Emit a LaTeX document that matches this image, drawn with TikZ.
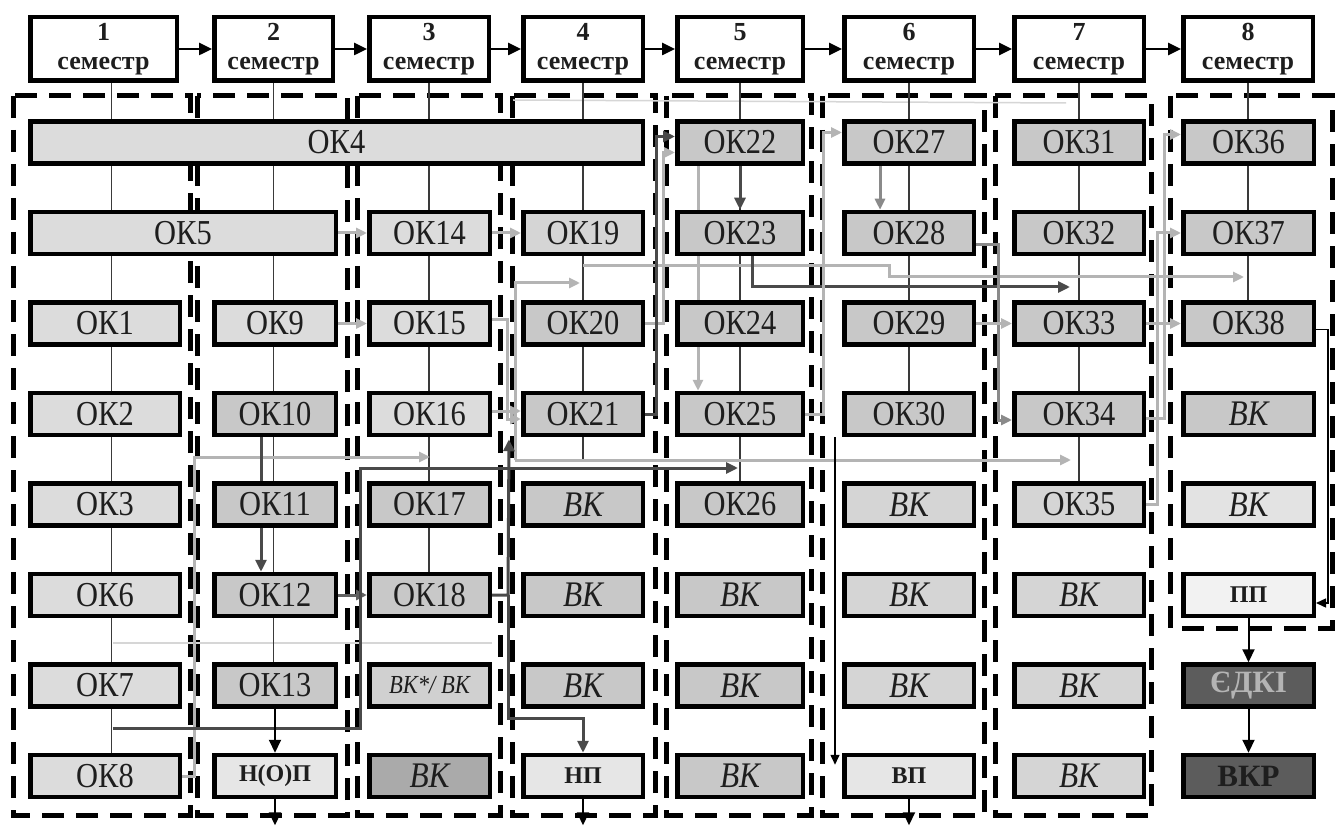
\documentclass[tikz,border=0pt]{standalone}
\usepackage{fontspec}
\setmainfont{Liberation Serif}
\newfontfamily\tallfont{Liberation Serif}[FakeStretch=0.87]
\usetikzlibrary{arrows.meta,backgrounds}
\definecolor{lg}{HTML}{B4B4B4}
\definecolor{mg}{HTML}{8A8A8A}
\definecolor{dg}{HTML}{4A4A4A}
\definecolor{cl}{HTML}{3A3A3A}
\definecolor{fA}{HTML}{DCDCDC}
\definecolor{fB}{HTML}{C8C8C8}
\definecolor{fC}{HTML}{D5D5D5}
\definecolor{fD}{HTML}{E6E6E6}
\definecolor{fE}{HTML}{F2F2F2}
\definecolor{fF}{HTML}{5C5C5C}
\definecolor{tx}{HTML}{1E1E1E}
\begin{document}
\begin{tikzpicture}[x=1pt,y=-1pt,
  box/.style={draw=black,line width=4.5pt,inner sep=0pt,minimum height=42pt,
    text=tx,font=\tallfont\fontsize{35}{35}\selectfont},
  hbox/.style={draw=black,line width=4.5pt,inner sep=0pt,minimum height=63.5pt,
    fill=white,align=center,text=tx,font=\fontsize{26}{29}\selectfont\bfseries},
  wa/.style={minimum width=149.5pt},
  wb/.style={minimum width=121.5pt},
  wc/.style={minimum width=120.5pt},
  wd/.style={minimum width=119.5pt},
  we/.style={minimum width=125.5pt},
  wf/.style={minimum width=129.5pt},
  wg/.style={minimum width=129.5pt},
  wh/.style={minimum width=130.5pt},
  vkt/.style={font=\tallfont\fontsize{36}{36}\selectfont\itshape},
  smt/.style={font=\fontsize{24}{24}\selectfont\bfseries},
  bigt/.style={font=\fontsize{31}{31}\selectfont\bfseries},
  frame/.style={draw=black,line width=5pt,dash pattern=on 22pt off 12pt},
  cline/.style={draw=cl,line width=1.3pt},
  faint/.style={draw=lg!55,line width=1.5pt},
  lgc/.style={draw=lg,line width=3pt,-{Triangle[length=11pt,width=10pt]}},
  dgc/.style={draw=dg,line width=3pt,-{Triangle[length=12pt,width=11pt]}},
  mgc/.style={draw=mg,line width=3pt,-{Triangle[length=11pt,width=10pt]}},
  blk/.style={draw=black,line width=2pt,-{Triangle[length=13pt,width=12pt]}},
  thinarr/.style={draw=black,line width=1.5pt,-{Triangle[length=10pt,width=9pt]}},
  harrow/.style={draw=black,line width=2.5pt,-{Triangle[length=13pt,width=12pt]}}
]
\useasboundingbox (0,0) rectangle (1338,826);

% header boxes
\node[hbox,minimum width=146.5pt] (h1) at (103.5,49) {1\\семестр};
\node[hbox,minimum width=118.5pt] (h2) at (273.5,49) {2\\семестр};
\node[hbox,minimum width=119.5pt] (h3) at (429,49) {3\\семестр};
\node[hbox,minimum width=119.5pt] (h4) at (583,49) {4\\семестр};
\node[hbox,minimum width=125.5pt] (h5) at (740,49) {5\\семестр};
\node[hbox,minimum width=129.5pt] (h6) at (909,49) {6\\семестр};
\node[hbox,minimum width=129.5pt] (h7) at (1079,49) {7\\семестр};
\node[hbox,minimum width=129.5pt] (h8) at (1248,49) {8\\семестр};
\foreach \a/\b in {h1/h2,h2/h3,h3/h4,h4/h5,h5/h6,h6/h7,h7/h8}
  \draw[harrow] (\a.east) -- (\b.west);

% row 0
\node[box,fill=fA,minimum width=612.5pt] (ok4) at (336.5,142.5) {ОК4};
\node[box,we,fill=fB] (ok22) at (740,142.5) {ОК22};
\node[box,wf,fill=fB] (ok27) at (909,142.5) {ОК27};
\node[box,wg,fill=fB] (ok31) at (1079,142.5) {ОК31};
\node[box,wh,fill=fB] (ok36) at (1248.5,142.5) {ОК36};
% row 1
\node[box,fill=fA,minimum width=305.5pt] (ok5) at (183,233) {ОК5};
\node[box,wc,fill=fA] (ok14) at (429.5,233) {ОК14};
\node[box,wd,fill=fC] (ok19) at (583,233) {ОК19};
\node[box,we,fill=fB] (ok23) at (740,233) {ОК23};
\node[box,wf,fill=fB] (ok28) at (909,233) {ОК28};
\node[box,wg,fill=fB] (ok32) at (1079,233) {ОК32};
\node[box,wh,fill=fB] (ok37) at (1248.5,233) {ОК37};
% row 2
\node[box,wa,fill=fA] (ok1) at (105,323.5) {ОК1};
\node[box,wb,fill=fA] (ok9) at (275,323.5) {ОК9};
\node[box,wc,fill=fA] (ok15) at (429.5,323.5) {ОК15};
\node[box,wd,fill=fB] (ok20) at (583,323.5) {ОК20};
\node[box,we,fill=fB] (ok24) at (740,323.5) {ОК24};
\node[box,wf,fill=fB] (ok29) at (909,323.5) {ОК29};
\node[box,wg,fill=fB] (ok33) at (1079,323.5) {ОК33};
\node[box,wh,fill=fB] (ok38) at (1248.5,323.5) {ОК38};
% row 3
\node[box,wa,fill=fA] (ok2) at (105,414) {ОК2};
\node[box,wb,fill=fB] (ok10) at (275,414) {ОК10};
\node[box,wc,fill=fA] (ok16) at (429.5,414) {ОК16};
\node[box,wd,fill=fB] (ok21) at (583,414) {ОК21};
\node[box,we,fill=fB] (ok25) at (740,414) {ОК25};
\node[box,wf,fill=fB] (ok30) at (909,414) {ОК30};
\node[box,wg,fill=fB] (ok34) at (1079,414) {ОК34};
\node[box,wh,fill=fB,vkt] (vk8a) at (1248.5,414) {ВК};
% row 4
\node[box,wa,fill=fA] (ok3) at (105,504.5) {ОК3};
\node[box,wb,fill=fB] (ok11) at (275,504.5) {ОК11};
\node[box,wc,fill=fB] (ok17) at (429.5,504.5) {ОК17};
\node[box,wd,fill=fB,vkt] (vk4a) at (583,504.5) {ВК};
\node[box,we,fill=fB] (ok26) at (740,504.5) {ОК26};
\node[box,wf,fill=fC,vkt] (vk6a) at (909,504.5) {ВК};
\node[box,wg,fill=fC] (ok35) at (1079,504.5) {ОК35};
\node[box,wh,fill=fD!80!fC,vkt] (vk8b) at (1248.5,504.5) {ВК};
% row 5
\node[box,wa,fill=fA] (ok6) at (105,595) {ОК6};
\node[box,wb,fill=fB] (ok12) at (275,595) {ОК12};
\node[box,wc,fill=fB] (ok18) at (429.5,595) {ОК18};
\node[box,wd,fill=fB,vkt] (vk4b) at (583,595) {ВК};
\node[box,we,fill=fB,vkt] (vk5a) at (740,595) {ВК};
\node[box,wf,fill=fC,vkt] (vk6b) at (909,595) {ВК};
\node[box,wg,fill=fC,vkt] (vk7a) at (1079,595) {ВК};
\node[box,wh,fill=fE,smt] (pp) at (1248.5,595) {ПП};
% row 6
\node[box,wa,fill=fA] (ok7) at (105,685.5) {ОК7};
\node[box,wb,fill=fB] (ok13) at (275,685.5) {ОК13};
\node[box,wc,fill=fB!60!fA,font=\tallfont\fontsize{26}{26}\selectfont\itshape] (vks) at (429.5,685.5) {ВК*/ ВК};
\node[box,wd,fill=fB,vkt] (vk4c) at (583,685.5) {ВК};
\node[box,we,fill=fB,vkt] (vk5b) at (740,685.5) {ВК};
\node[box,wf,fill=fC,vkt] (vk6c) at (909,685.5) {ВК};
\node[box,wg,fill=fC,vkt] (vk7b) at (1079,685.5) {ВК};
\node[box,wh,fill=fF,text=lg,bigt] (edki) at (1248.5,685.5) {ЄДКІ};
% row 7
\node[box,wa,fill=fA] (ok8) at (105,776) {ОК8};
\node[box,wb,fill=fD,smt] (nop) at (275,776) {Н(О)П};
\node[box,wc,fill=fB!85!black,vkt] (vk3) at (429.5,776) {ВК};
\node[box,wd,fill=fD,smt] (np) at (583,776) {НП};
\node[box,we,fill=fB,vkt] (vk5c) at (740,776) {ВК};
\node[box,wf,fill=fD,smt] (vp) at (909,776) {ВП};
\node[box,wg,fill=fC,vkt] (vk7c) at (1079,776) {ВК};
\node[box,wh,fill=fF,text=tx,bigt] (vkr) at (1248.5,776) {ВКР};

% free ends
\coordinate (g1) at (580,283);
\coordinate (jn) at (515,460);
\coordinate (k1) at (1071,460);
\coordinate (j1) at (430,457);
\coordinate (l0) at ([xshift=8,yshift=-20]ok7.south);
\coordinate (l1) at (738,468);
\coordinate (m0) at ([yshift=-9]ok19.south);
\coordinate (m1) at (1244,277);
\coordinate (r1) at (1070,287);
\coordinate (nopout) at ([yshift=-26]nop.south);
\coordinate (npout) at ([yshift=-26]np.south);
\coordinate (vpout) at ([yshift=-26]vp.south);
\coordinate (h21) at ([xshift=-12,yshift=-2]ok21.south west);

\begin{pgfonlayer}{background}
\fill[white] (0,0) rectangle (1338,826);
% dashed semester frames
\draw[frame] (13,96) rectangle (190,815);
\draw[frame] (197,96) rectangle (347,815);
\draw[frame] (357,96) rectangle (500,815);
\draw[frame] (512,96) rectangle (655,815);
\draw[frame] (666,96) rectangle (811,815);
\draw[frame] (822,96) rectangle (984,815);
\draw[frame] (995,96) rectangle (1151,815);
\draw[frame] (1170,96) rectangle (1332,628);
% faint lines
\draw[faint] (513,100) -- (1066,103);
\draw[faint] ([xshift=8]ok6.south |- 0,643) -- (ok18.east |- 0,643);
% column lines
\draw[cline] ([xshift=8]h1.south) -- ([xshift=8]h1.south |- ok8.north);
\draw[cline] (h2.south) -- (h2.south |- ok13.north);
\draw[cline] (h3.south) -- (h3.south |- ok18.north);
\draw[cline] (h4.south) -- (h4.south |- jn);
\draw[cline] (h5.south) -- (h5.south |- ok26.north);
\draw[cline] (h6.south) -- (h6.south |- ok30.north);
\draw[cline] (h7.south) -- (h7.south |- ok35.north);
\draw[cline] (h8.south) -- (h8.south |- ok38.north);
% connectors
\draw[lgc] (ok5.east) -- (ok14.west);
\draw[lgc] (ok14.east) -- (ok19.west);
\draw[lgc] (ok9.east) -- (ok15.west);
\draw[mgc,draw=mg!70!black] (ok12.east) -- (ok18.west);
\draw[lgc] ([yshift=4]ok15.east) -- ++(15,0) |- ([yshift=-5]ok21.west);
\draw[lgc] ([yshift=3]ok16.east) -- ([yshift=3]ok21.west);
\draw[lgc] (jn) -- (515,283) -- (g1);
\draw[lgc] (jn) -- (k1);
\draw[dgc] (ok18.east) -- (508,595) -- (h21);
\draw[dgc] (508,595) -- (508,718) -| (np.north);
\draw[lgc] (ok8.east) -- (194,776) -- (194,457) -- (j1);
\draw[dgc] (l0) -| (360,468) -- (l1);
\draw[lgc] (m0) -| (889,277) -- (m1);
\draw[lgc] (ok20.east) -- ++(18,0) |- ([yshift=-10]ok22.west);
\draw[dgc] (ok21.east) -- ++(11,0) |- ([yshift=6]ok22.west);
\draw[dgc] (ok22.south) -- (ok23.north);
\draw[lgc] ([xshift=-42]ok22.south) -- ([xshift=-42]ok25.north);
\draw[dgc] ([xshift=12]ok23.south) |- (r1);
\draw[lgc] (ok25.east) -- ++(18,0) |- ([yshift=10]ok27.west);
\draw[mgc] ([xshift=-29]ok27.south) -- ([xshift=-29]ok28.north);
\draw[mgc] ([yshift=-12]ok28.east) -- ++(22,0) |- ([yshift=-6]ok34.west);
\draw[lgc] (ok29.east) -- (ok33.west);
\draw[lgc] (ok33.east) -- (ok38.west);
\draw[lgc] ([yshift=-4]ok34.east) -- ++(18,0) |- ([yshift=8]ok36.west);
\draw[lgc] (ok35.east) -- ++(11,0) |- (ok37.west);
\draw[thinarr] ([yshift=-6]ok38.east) -- ++(12,0) |- ([yshift=-8]pp.east);
\draw[thinarr] ([xshift=-7]ok30.south west) -- ([xshift=-7,yshift=-12]vp.north west);
\draw[dgc] ([xshift=-14]ok10.south) -- ([xshift=-14]ok12.north);
\draw[blk] (ok13.south) -- (nop.north);
\draw[blk] (nop.south) -- (nopout);
\draw[blk] (np.south) -- (npout);
\draw[blk] (vp.south) -- (vpout);
\draw[blk] (pp.south) -- (edki.north);
\draw[blk] (edki.south) -- (vkr.north);
\end{pgfonlayer}
\end{tikzpicture}
\end{document}
